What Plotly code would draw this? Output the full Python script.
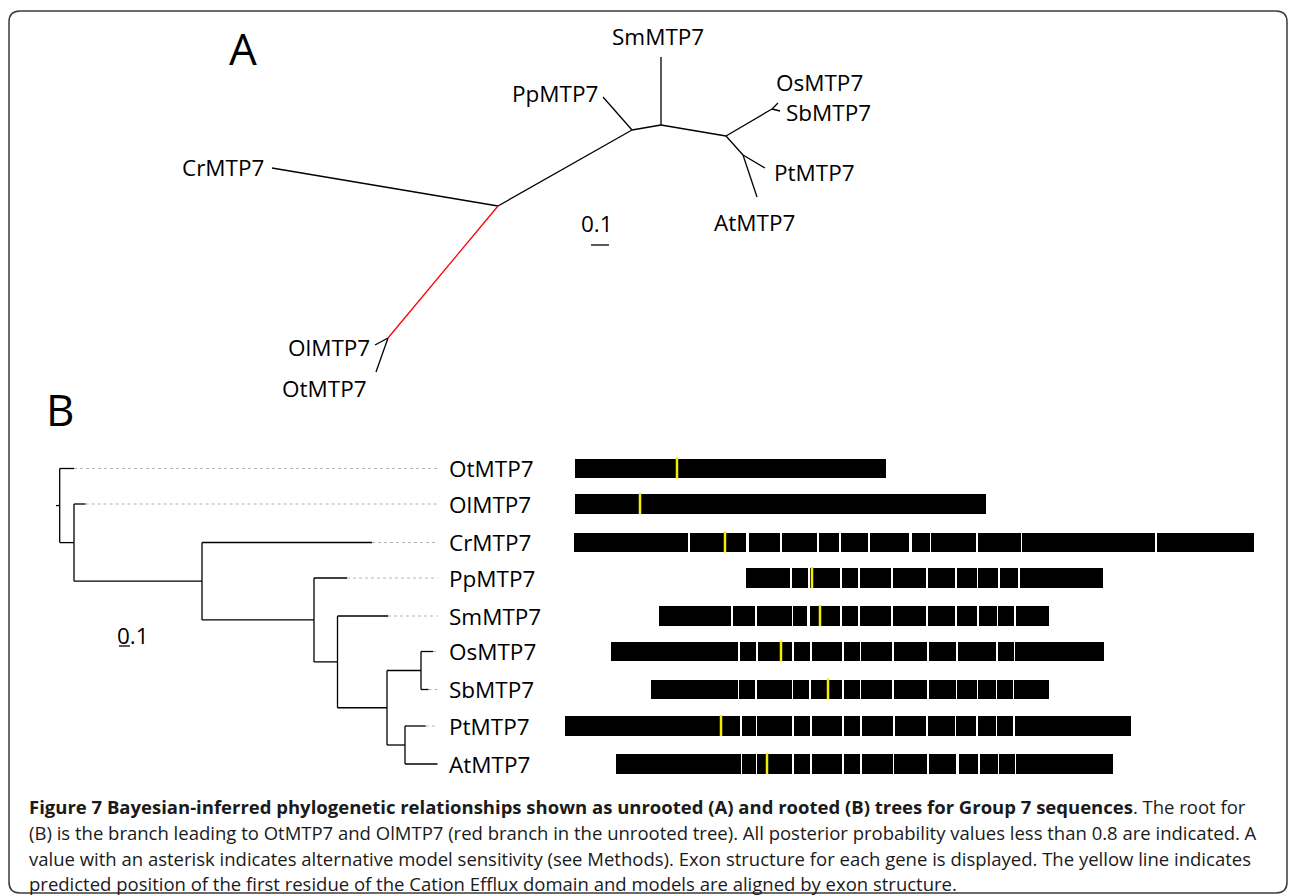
import plotly.graph_objects as go

# ---------------- data ----------------
genes = ["OtMTP7", "OlMTP7", "CrMTP7", "PpMTP7", "SmMTP7",
         "OsMTP7", "SbMTP7", "PtMTP7", "AtMTP7"]
row_y = [468.5, 504, 542.5, 578, 616, 651.5, 689.5, 726, 764]

# exon structure (start, end) per gene, aligned by exon structure
exons_ot = [(575, 886)]
exons_ol = [(575, 986)]
exons_cr = [(574, 688), (690, 746), (749, 780), (782, 817), (819, 839), (841, 868),
            (870, 909), (912, 930), (931, 976), (978, 1021), (1022, 1155), (1157, 1254)]
exons_pp = [(746, 790), (792, 808), (810, 840), (842, 858), (860, 891), (893, 926),
            (928, 955), (957, 977), (978, 998), (1000, 1018), (1020, 1103)]
exons_sm = [(659, 731), (733, 755), (757, 792), (793, 807), (810, 840), (842, 858),
            (860, 891), (893, 926), (928, 955), (957, 977), (979, 997), (998, 1014),
            (1016, 1049)]
exons_os = [(611, 738), (740, 756), (758, 792), (794, 810), (812, 842), (844, 860),
            (861, 892), (894, 927), (929, 956), (958, 996), (998, 1014), (1015, 1104)]
exons_sb = [(651, 738), (739, 755), (757, 792), (793, 809), (811, 842), (844, 860),
            (861, 892), (894, 927), (929, 956), (957, 977), (978, 996), (997, 1013),
            (1014, 1049)]
exons_pt = [(565, 740), (742, 756), (757, 792), (794, 810), (812, 842), (844, 860),
            (862, 893), (895, 926), (928, 955), (956, 976), (978, 996), (997, 1013),
            (1015, 1131)]
exons_at = [(616, 741), (742, 756), (757, 792), (794, 810), (812, 842), (844, 860),
            (862, 893), (894, 927), (929, 956), (959, 978), (980, 998), (999, 1015),
            (1016, 1113)]
exons = [exons_ot, exons_ol, exons_cr, exons_pp, exons_sm,
         exons_os, exons_sb, exons_pt, exons_at]
# position of first residue of the Cation Efflux domain
domain_start = [677, 640, 725, 812, 820, 781, 828, 721, 767]

# rooted tree (B): tip end of the solid branch, and internal nodes
b_tip_x = [74, 85.7, 372, 347, 388, 433, 428.6, 425.7, 437.5]
b_nodes = [  # (name, x, children)
    ("n7", 421, ["OsMTP7", "SbMTP7"]),
    ("n8", 405, ["PtMTP7", "AtMTP7"]),
    ("n6", 387, ["n7", "n8"]),
    ("n5", 337.5, ["SmMTP7", "n6"]),
    ("n4", 314, ["PpMTP7", "n5"]),
    ("n3", 202, ["CrMTP7", "n4"]),
    ("n2", 74, ["OlMTP7", "n3"]),
    ("root", 59.7, ["OtMTP7", "n2"]),
]
b_guide_end = 437.5
b_root_stub = 56

# unrooted tree (A)
a_nodes = {"C1": (498, 206), "OO": (388, 338), "P": (632, 130), "S": (661, 125),
           "M": (726, 136), "OS": (772, 109), "PA": (743, 155)}
a_tips = {"CrMTP7": (272, 168), "OlMTP7": (375, 345), "OtMTP7": (376, 372),
          "PpMTP7": (603, 97), "SmMTP7": (661, 57), "OsMTP7": (778, 103),
          "SbMTP7": (780, 111), "PtMTP7": (765, 168), "AtMTP7": (757, 197)}
a_edges = [("C1", "CrMTP7"), ("OO", "OlMTP7"), ("OO", "OtMTP7"),
           ("C1", "P"), ("P", "PpMTP7"), ("P", "S"), ("S", "SmMTP7"), ("S", "M"),
           ("M", "OS"), ("OS", "OsMTP7"), ("OS", "SbMTP7"), ("M", "PA"),
           ("PA", "PtMTP7"), ("PA", "AtMTP7")]
a_root_edge = ("C1", "OO")

# label placement for tree A: (x, y, xanchor)
a_labels = {"CrMTP7": (266, 167, "right"), "PpMTP7": (600, 93, "right"),
            "SmMTP7": (658, 36, "center"), "OsMTP7": (774, 82, "left"),
            "SbMTP7": (784, 112, "left"), "PtMTP7": (772, 172, "left"),
            "AtMTP7": (754, 222, "center"), "OlMTP7": (372, 347, "right"),
            "OtMTP7": (369, 388, "right")}

caption_lines = [
    "<b>Figure 7 Bayesian-inferred phylogenetic relationships shown as unrooted (A) and rooted (B) trees for Group 7 sequences</b>. The root for",
    "(B) is the branch leading to OtMTP7 and OlMTP7 (red branch in the unrooted tree). All posterior probability values less than 0.8 are indicated. A",
    "value with an asterisk indicates alternative model sensitivity (see Methods). Exon structure for each gene is displayed. The yellow line indicates",
    "predicted position of the first residue of the Cation Efflux domain and models are aligned by exon structure.",
]
caption_y = [806, 832, 858, 883]

FONT = "Open Sans"
fig = go.Figure()

# ---------------- exon bars ----------------
bx, bb, by = [], [], []
for y, ex in zip(row_y, exons):
    for s, e in ex:
        bx.append(e - s)
        bb.append(s)
        by.append(y)
fig.add_trace(go.Bar(x=bx, base=bb, y=by, orientation="h", width=19.5,
                     marker=dict(color="black", line=dict(width=0)),
                     hoverinfo="skip", showlegend=False))

yx, yy = [], []
for y, d in zip(row_y, domain_start):
    yx += [d, d, None]
    yy += [y - 11, y + 10, None]
fig.add_trace(go.Scatter(x=yx, y=yy, mode="lines",
                         line=dict(color="#f2ee00", width=2.5),
                         hoverinfo="skip", showlegend=False))

# ---------------- tree B ----------------
pos = {}
for g, y, tx in zip(genes, row_y, b_tip_x):
    pos[g] = (tx, y)
for name, x, ch in b_nodes:
    ys = [pos[c][1] for c in ch]
    pos[name] = (x, sum(ys) / 2)

lx, ly = [], []
for name, x, ch in b_nodes:
    ys = [pos[c][1] for c in ch]
    lx += [x, x, None]
    ly += [min(ys), max(ys), None]
    for c in ch:
        cx = pos[c][0]
        lx += [x, cx, None]
        ly += [pos[c][1], pos[c][1], None]
rx, ry = pos["root"]
lx += [b_root_stub, rx, None]
ly += [ry, ry, None]
fig.add_trace(go.Scatter(x=lx, y=ly, mode="lines", line=dict(color="black", width=1.3),
                         hoverinfo="skip", showlegend=False))

gx, gy = [], []
for g, y, tx in zip(genes, row_y, b_tip_x):
    if tx < b_guide_end - 1:
        gx += [tx, b_guide_end, None]
        gy += [y, y, None]
fig.add_trace(go.Scatter(x=gx, y=gy, mode="lines",
                         line=dict(color="#b5b5b5", width=1, dash="dot"),
                         hoverinfo="skip", showlegend=False))

# ---------------- tree A ----------------
allp = dict(a_nodes)
allp.update(a_tips)
ax, ay = [], []
for a, b in a_edges:
    ax += [allp[a][0], allp[b][0], None]
    ay += [allp[a][1], allp[b][1], None]
fig.add_trace(go.Scatter(x=ax, y=ay, mode="lines", line=dict(color="black", width=1.3),
                         hoverinfo="skip", showlegend=False))
a, b = a_root_edge
fig.add_trace(go.Scatter(x=[allp[a][0], allp[b][0]], y=[allp[a][1], allp[b][1]],
                         mode="lines", line=dict(color="#ff0000", width=1.3),
                         hoverinfo="skip", showlegend=False))

# scale bars
fig.add_trace(go.Scatter(x=[591, 609, None, 119, 130], y=[245, 245, None, 646, 646],
                         mode="lines", line=dict(color="black", width=1.3),
                         hoverinfo="skip", showlegend=False))

ann = []
tf = dict(family=FONT, size=22.5, color="black")
for g, (x, y, xa) in a_labels.items():
    ann.append(dict(x=x, y=y, text=g, xanchor=xa, yanchor="middle", font=tf))
for g, y in zip(genes, row_y):
    ann.append(dict(x=447, y=y, text=g, xanchor="left", yanchor="middle", font=tf))
ann.append(dict(x=597, y=223, text="0.1", xanchor="center", yanchor="middle", font=tf))
ann.append(dict(x=133, y=635, text="0.1", xanchor="center", yanchor="middle", font=tf))
ann.append(dict(x=243, y=48, text="A", xanchor="center", yanchor="middle",
                font=dict(family=FONT, size=44, color="black")))
ann.append(dict(x=60, y=409, text="B", xanchor="center", yanchor="middle",
                font=dict(family=FONT, size=44, color="black")))
for t, y in zip(caption_lines, caption_y):
    ann.append(dict(x=27, y=y, text=t, xanchor="left", yanchor="middle",
                    font=dict(family=FONT, size=18.5, color="#1a1a1a")))
for a_ in ann:
    a_.update(xref="x", yref="y", showarrow=False)

# rounded border
L, T, R, B, r = 9, 11, 1287, 893, 11
border = (f"M {L+r},{T} L {R-r},{T} Q {R},{T} {R},{T+r} L {R},{B-r} Q {R},{B} {R-r},{B} "
          f"L {L+r},{B} Q {L},{B} {L},{B-r} L {L},{T+r} Q {L},{T} {L+r},{T} Z")

fig.update_layout(
    width=1290, height=895, margin=dict(l=0, r=0, t=0, b=0),
    paper_bgcolor="white", plot_bgcolor="white",
    barmode="overlay", bargap=0,
    xaxis=dict(range=[0, 1290], visible=False, fixedrange=True),
    yaxis=dict(range=[895, 0], visible=False, fixedrange=True),
    annotations=ann,
    shapes=[dict(type="path", path=border, xref="x", yref="y",
                 line=dict(color="#3a3a3a", width=1.5))],
    showlegend=False,
)
fig.write_html("out.html")
